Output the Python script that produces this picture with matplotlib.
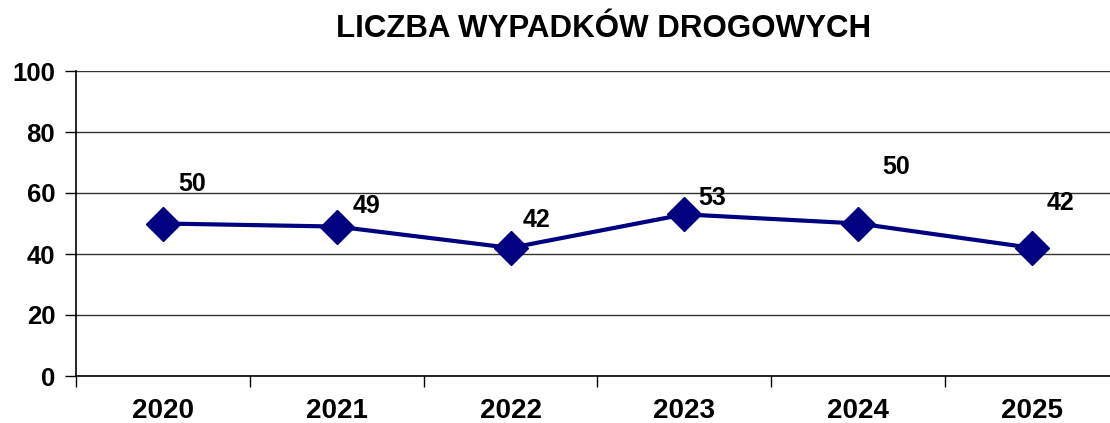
import matplotlib
matplotlib.use("Agg")
import matplotlib.pyplot as plt
import numpy as np

years = ["2020", "2021", "2022", "2023", "2024", "2025"]
accidents = [50, 49, 42, 53, 50, 42]
yticks = [0, 20, 40, 60, 80, 100]
title = "LICZBA WYPADKÓW DROGOWYCH"

# label offsets in pixels (style only)
label_offsets = [(29, 40), (30, 21), (26, 28), (28, 16), (38, 57), (28, 45)]

W, H = 1110, 423
fig = plt.figure(figsize=(W / 100, H / 100), dpi=100)
left, right = 76 / W, 1119 / W
bottom, top = 1 - 376 / H, 1 - 71 / H
ax = fig.add_axes([left, bottom, right - left, top - bottom])

font = "Liberation Sans"
x = np.arange(len(years))
ax.plot(x, accidents, color="#000080", linewidth=3.0, marker="D",
        markersize=17, markerfacecolor="#000080", markeredgecolor="#000080", zorder=3)

for xi, v, (dx, dy) in zip(x, accidents, label_offsets):
    ax.annotate(str(v), (xi, v), xytext=(dx * 0.72, dy * 0.72), textcoords="offset points",
                ha="center", va="center", fontsize=18, fontweight="bold", family=font)

ax.set_xlim(-0.5, len(years) - 0.5)
ax.set_ylim(0, 100)
ax.set_yticks(yticks)
ax.set_yticklabels([str(t) for t in yticks], fontsize=18.5, fontweight="bold", family=font)
ax.grid(axis="y", color="#333333", linewidth=1.0)
ax.set_axisbelow(True)

ax.set_xticks(np.arange(len(years) + 1) - 0.5)
ax.set_xticklabels([])
ax.set_xticks(x, minor=True)
ax.set_xticklabels(years, minor=True, fontsize=20, fontweight="bold", family=font)
ax.tick_params(axis="x", which="major", length=8, width=1, color="black")
ax.tick_params(axis="x", which="minor", length=0, pad=15.5)
ax.tick_params(axis="y", length=8, width=1, pad=7)

for s in ["top", "right"]:
    ax.spines[s].set_visible(False)
ax.spines["left"].set_linewidth(1.2)
ax.spines["bottom"].set_linewidth(1.2)

fig.text(604 / W, 1 - 29 / H, title, ha="center", va="center", fontsize=22.5,
         fontweight="bold", family=font)

fig.savefig("out.png", dpi=100)
